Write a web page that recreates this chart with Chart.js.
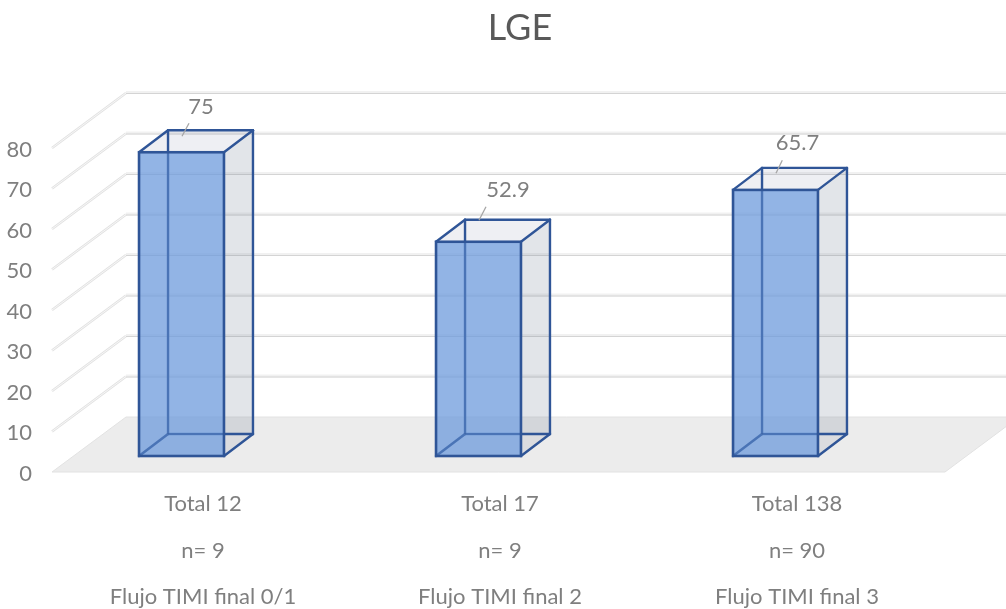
<!DOCTYPE html>
<html lang="es">
<head>
<meta charset="utf-8">
<title>LGE</title>
<script src="https://cdn.jsdelivr.net/npm/chart.js"></script>
<style>
    html, body { margin: 0; padding: 0; background: #ffffff; }
    canvas { display: block; }
</style>
</head>
<body>
<canvas id="lgeChart" width="1006" height="609"></canvas>
<script>
// Data
const chartTitle = 'LGE';
const totals = ['Total 12', 'Total 17', 'Total 138'];
const counts = ['n= 9', 'n= 9', 'n= 90'];
const flowGrades = ['Flujo TIMI final 0/1', 'Flujo TIMI final 2', 'Flujo TIMI final 3'];
const lgeValues = [75, 52.9, 65.7];
const yMin = 0;
const yMax = 80;
const yStep = 10;

// Where the value labels and their leader lines sit, relative to the top of each bar
const labelShift = [[19.5, -45], [29.5, -52], [22, -47]];
const leaderStart = [[0.5, -16], [0.5, -21.5], [0.5, -16.7]];
const leaderEnd = [[7.5, -29], [7.5, -35], [6.8, -29.7]];

// Oblique projection of the fake 3D box
const FONT = 'Lato, "Open Sans", sans-serif';
const wall = { dx: 74, dy: -55, lip: 16, insetLeft: 19, insetRight: 21 };
const box = { dx: 29, dy: -22 };
const EDGE = '#2f5597';

function poly(ctx, pts) {
    ctx.beginPath();
    pts.forEach((p, i) => i ? ctx.lineTo(p[0], p[1]) : ctx.moveTo(p[0], p[1]));
    ctx.closePath();
}

function segment(ctx, a, b) {
    ctx.beginPath();
    ctx.moveTo(a[0], a[1]);
    ctx.lineTo(b[0], b[1]);
    ctx.stroke();
}

// Floor, side wall and back wall gridlines
function drawWalls(chart) {
    const ctx = chart.ctx;
    const area = chart.chartArea;
    const yScale = chart.scales.y;
    const frontL = area.left + wall.insetLeft;
    const frontR = area.right + wall.insetRight;
    const y0 = yScale.getPixelForValue(yMin) + wall.lip;

    ctx.save();
    poly(ctx, [
        [frontL, y0],
        [frontR, y0],
        [frontR + wall.dx, y0 + wall.dy],
        [frontL + wall.dx, y0 + wall.dy]
    ]);
    ctx.fillStyle = '#ececec';
    ctx.fill();
    ctx.lineWidth = 1;
    ctx.strokeStyle = '#e2e2e2';
    ctx.stroke();

    yScale.ticks.forEach(tick => {
        if (tick.value === yMin) return;
        const y = yScale.getPixelForValue(tick.value) + wall.lip;
        const a = [frontL, y];
        const b = [frontL + wall.dx, y + wall.dy];
        const c = [chart.width, y + wall.dy];
        ctx.strokeStyle = '#e2e2e2';
        ctx.lineWidth = 2.6;
        segment(ctx, a, b);
        ctx.strokeStyle = '#f7f7f7';
        ctx.lineWidth = 1;
        segment(ctx, a, b);
        ctx.strokeStyle = '#f1f1f1';
        ctx.lineWidth = 3;
        segment(ctx, [b[0], b[1] - 0.5], [c[0], c[1] - 0.5]);
        ctx.strokeStyle = '#d4d4d4';
        ctx.lineWidth = 1;
        segment(ctx, [b[0], b[1] + 0.5], [c[0], c[1] + 0.5]);
    });
    ctx.restore();
}

// Faces that lie behind the front of each bar
function drawBoxBack(chart) {
    const ctx = chart.ctx;
    const { dx, dy } = box;
    chart.getDatasetMeta(0).data.forEach(bar => {
        const l = bar.x - bar.width / 2;
        const r = bar.x + bar.width / 2;
        const t = bar.y;
        const b = bar.base;
        ctx.save();
        poly(ctx, [[l, t], [r, t], [r + dx, t + dy], [l + dx, t + dy]]);
        ctx.fillStyle = 'rgba(120,130,160,0.13)';
        ctx.fill();
        poly(ctx, [[r, t], [r + dx, t + dy], [r + dx, b + dy], [r, b + dy]]);
        ctx.fillStyle = 'rgba(120,130,150,0.21)';
        ctx.fill();
        poly(ctx, [[r, b + dy], [r + dx, b + dy], [r, b]]);
        ctx.fillStyle = 'rgba(120,130,150,0.14)';
        ctx.fill();
        ctx.strokeStyle = EDGE;
        ctx.lineWidth = 2.4;
        ctx.lineCap = 'round';
        segment(ctx, [l + dx, t + dy], [l + dx, b + dy]);
        segment(ctx, [l + dx, b + dy], [r + dx, b + dy]);
        segment(ctx, [l, b], [l + dx, b + dy]);
        segment(ctx, [r, b], [r + dx, b + dy]);
        segment(ctx, [r + dx, t + dy], [r + dx, b + dy]);
        segment(ctx, [l, t], [l + dx, t + dy]);
        segment(ctx, [l + dx, t + dy], [r + dx, t + dy]);
        segment(ctx, [r + dx, t + dy], [r, t]);
        ctx.restore();
    });
}

// Front outline, value labels and heading
function drawOverlay(chart) {
    const ctx = chart.ctx;
    const { dx, dy } = box;
    chart.getDatasetMeta(0).data.forEach((bar, i) => {
        const l = bar.x - bar.width / 2;
        const r = bar.x + bar.width / 2;
        ctx.save();

        // back edges still show through the tinted front
        ctx.strokeStyle = 'rgba(47,85,151,0.4)';
        ctx.lineWidth = 2.2;
        segment(ctx, [l + dx, bar.y], [l + dx, bar.base + dy]);
        segment(ctx, [l, bar.base], [l + dx, bar.base + dy]);
        segment(ctx, [l + dx, bar.base + dy], [r, bar.base + dy]);

        ctx.strokeStyle = EDGE;
        ctx.lineWidth = 2.6;
        ctx.strokeRect(l, bar.y, bar.width, bar.base - bar.y);

        ctx.strokeStyle = '#a6a6a6';
        ctx.lineWidth = 1.3;
        segment(ctx,
            [bar.x + leaderStart[i][0], bar.y + leaderStart[i][1]],
            [bar.x + leaderEnd[i][0], bar.y + leaderEnd[i][1]]);

        ctx.fillStyle = '#7f7f7f';
        ctx.font = '22px ' + FONT;
        ctx.textAlign = 'center';
        ctx.textBaseline = 'middle';
        ctx.fillText(String(lgeValues[i]), bar.x + labelShift[i][0], bar.y + labelShift[i][1]);
        ctx.restore();
    });

    ctx.save();
    ctx.fillStyle = '#595959';
    ctx.font = '36px ' + FONT;
    ctx.textAlign = 'center';
    ctx.textBaseline = 'middle';
    ctx.fillText(chartTitle, 520, 28);
    ctx.restore();
}

const boxPlugin = {
    id: 'obliqueBoxes',
    beforeDatasetsDraw(chart) {
        drawWalls(chart);
        drawBoxBack(chart);
    },
    afterDatasetsDraw(chart) {
        drawOverlay(chart);
    }
};

new Chart(document.getElementById('lgeChart'), {
    type: 'bar',
    data: {
        labels: totals.map((t, i) => [t, counts[i], flowGrades[i]]),
        datasets: [{
            label: chartTitle,
            data: lgeValues,
            backgroundColor: 'rgba(110,155,220,0.75)',
            borderWidth: 0,
            categoryPercentage: 1,
            barPercentage: 0.286
        }]
    },
    options: {
        responsive: false,
        animation: false,
        layout: { padding: { top: 132, right: 82, left: 0, bottom: 0 } },
        plugins: {
            legend: { display: false },
            tooltip: { enabled: false },
            title: { display: false }
        },
        scales: {
            x: {
                afterFit(scale) { scale.height = 153; },
                grid: { display: false, drawTicks: false },
                border: { display: false },
                ticks: {
                    autoSkip: false,
                    maxRotation: 0,
                    labelOffset: 21.5,
                    padding: 25,
                    color: '#7f7f7f',
                    font: { family: FONT, size: 22, lineHeight: 2.11 }
                }
            },
            y: {
                min: yMin,
                max: yMax,
                afterFit(scale) { scale.width = 33; },
                grid: { display: false, drawTicks: false },
                border: { display: false },
                ticks: {
                    stepSize: yStep,
                    labelOffset: 17.5,
                    padding: 1,
                    color: '#7f7f7f',
                    font: { family: FONT, size: 22 }
                }
            }
        }
    },
    plugins: [boxPlugin]
});
</script>
</body>
</html>
